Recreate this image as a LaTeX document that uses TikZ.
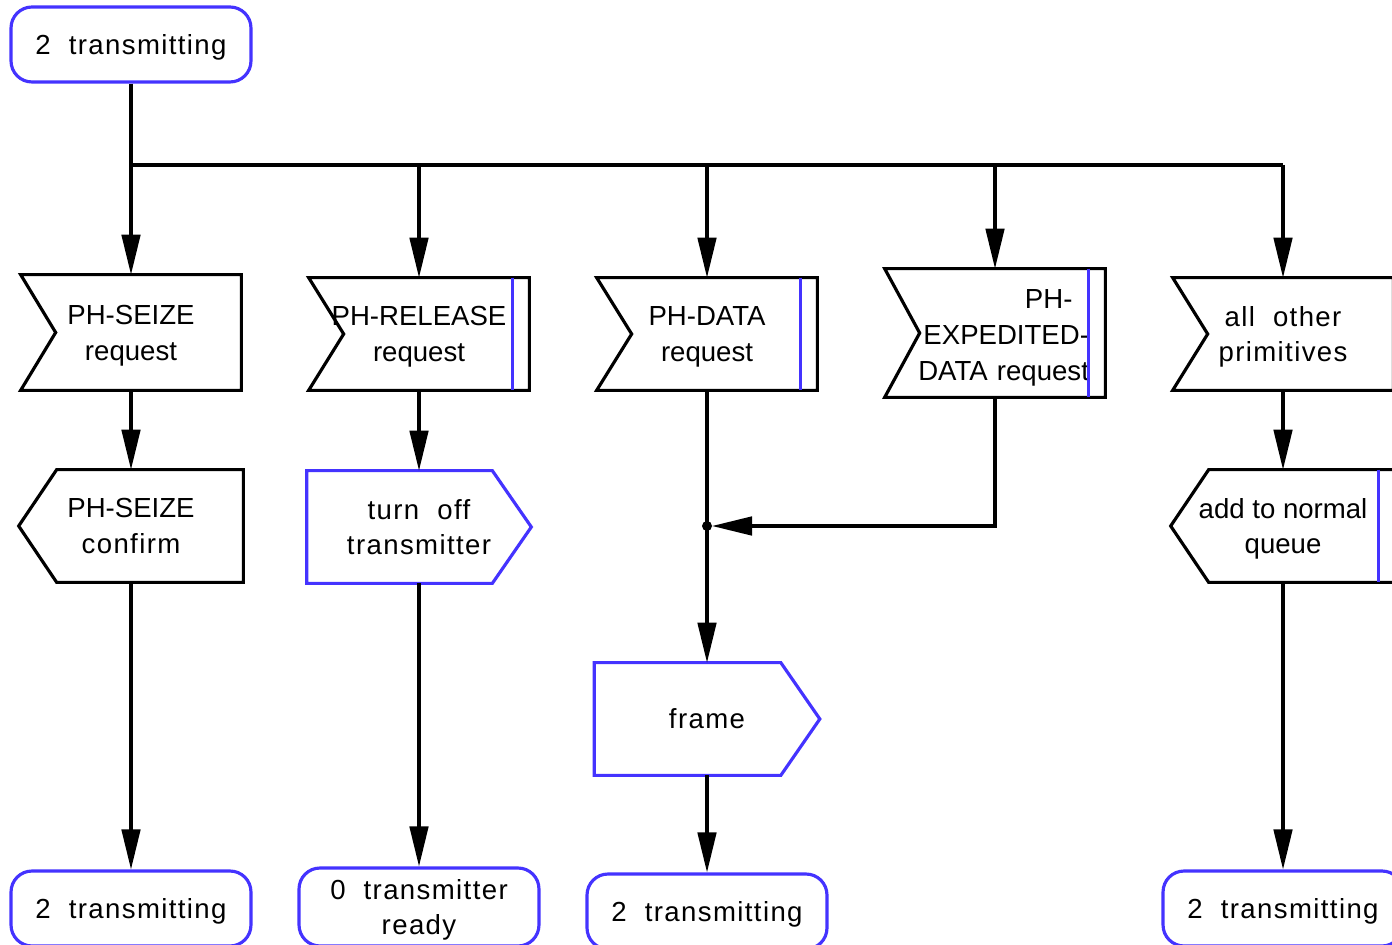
\documentclass[tikz,border=0pt]{standalone}
\usepackage{fontspec}
\setmainfont{Liberation Sans}
\newfontfamily\spacedfont[LetterSpace=5]{Liberation Sans}
\definecolor{sdlBlue}{HTML}{4433FF}
\usetikzlibrary{
	arrows.meta,
	calc
}
\tikzset{
	txt/.style={font=\fontsize{15.7}{20.4}\selectfont, align=center, inner sep=0pt, text depth=0pt},
	state/.style={txt, draw=sdlBlue, line width=1.8pt, rounded corners=0.42cm, minimum width=4.8cm, minimum height=1.5cm},
	sigbox/.style={txt, minimum width=4.4cm, minimum height=2.24cm},
	outbox/.style={txt, minimum width=4.48cm, minimum height=2.24cm},
	wire/.style={line width=1.8pt},
	arr/.style={wire, -{Triangle[length=0.8cm,width=0.37cm]}}
}
\begin{document}
\begin{tikzpicture}[x=0.02cm, y=-0.02cm]
		\useasboundingbox (0,0) rectangle (1392,945);
		% states
		\node[state] (start) at (131,44.5) {\spacedfont 2~~transmitting};
		\node[state] (end1) at (131,908.5) {\spacedfont 2~~transmitting};
		\node[state, minimum height=1.56cm] (ready) at (419,907) {\spacedfont 0~~transmitter\\\spacedfont ready};
		\node[state] (end3) at (707,911.5) {\spacedfont 2~~transmitting};
		\node[state] (end4) at (1283,908.5) {\spacedfont 2~~transmitting};
		% inputs
		\node[sigbox, minimum height=2.3cm] (seize) at (131,332.5) {PH-SEIZE\\request};
		\node[sigbox] (release) at (419,334) {PH-RELEASE\\request};
		\node[sigbox] (data) at (707,334) {PH-DATA\\request};
		\node[sigbox, minimum height=2.56cm, align=right, text width=3.76cm, text depth=1.35cm] (expedited) at (995,333) {PH-\kern0.6em\\EXPEDITED-\\DATA request};
		\node[sigbox] (other) at (1283,334) {\spacedfont all~~other\\\spacedfont primitives};
		% outputs
		\node[outbox] (seizeconf) at (131,526) {PH-SEIZE\\\spacedfont confirm};
		\node[outbox] (turnoff) at (419,527) {\spacedfont turn~~off\\\spacedfont transmitter};
		\node[outbox, minimum width=4.5cm] (frame) at (707,719) {\spacedfont frame};
		\node[outbox] (queue) at (1283,526) {add to normal\\queue};
		\coordinate (bus) at (131,165);
		\coordinate (junc) at (707,526);
		% outlines
		\foreach \n in {seize,release,data,expedited,other}{\draw[wire] (\n.north west) -- (\n.north east) -- (\n.south east) -- (\n.south west) -- ([xshift=0.7cm]\n.west) -- cycle;}
		\foreach \n in {seizeconf,queue}{\draw[wire] (\n.north east) -- (\n.south east) -- ([xshift=0.76cm]\n.south west) -- (\n.west) -- ([xshift=0.76cm]\n.north west) -- cycle;}
		\foreach \n in {turnoff,frame}{\draw[wire, draw=sdlBlue] (\n.north west) -- ([xshift=-0.78cm]\n.north east) -- (\n.east) -- ([xshift=-0.78cm]\n.south east) -- (\n.south west) -- cycle;}
		\foreach \n in {release,data,expedited,queue}{\draw[wire, sdlBlue] ([xshift=-0.34cm]\n.north east) -- ([xshift=-0.34cm]\n.south east);}
		% connectors
		\draw[wire] (start) -- (bus) -- (bus -| other);
		\foreach \n in {seize,release,data,expedited,other}{\draw[arr] (bus -| \n) -- (\n.north);}
		\draw[arr] (seize) -- (seizeconf);
		\draw[arr] (seizeconf) -- (end1);
		\draw[arr] (release) -- (turnoff);
		\draw[arr] (turnoff) -- (ready);
		\draw[wire] (data) -- (junc);
		\draw[arr] (junc) -- (frame);
		\draw[arr] (frame) -- (end3);
		\draw[arr, shorten >=0.1cm] (expedited.south) |- (junc);
		\fill (junc) circle (0.1cm);
		\draw[arr] (other) -- (queue);
		\draw[arr] (queue) -- (end4);
	\end{tikzpicture}
\end{document}
